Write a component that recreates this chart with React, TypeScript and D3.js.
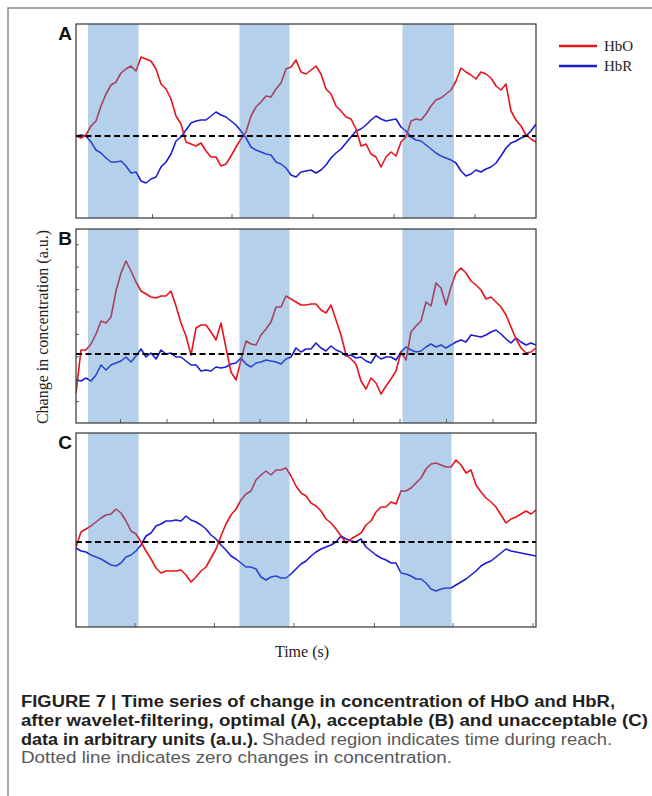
import React from 'react';
import * as d3 from 'd3';

// one sample per second, 93 samples per trace (values in a.u., 0 = no change)
const hboA = [0, -2, 1, 10, 15, 30, 42, 51, 54, 63, 67, 70, 65, 79, 77, 75, 67, 52, 47, 37, 20, 12, -6, -8, -10, -7, -15, -21, -21, -30, -28, -20, -11, -3, 4,
    20, 29, 34, 40, 39, 47, 53, 67, 69, 76, 64, 62, 66, 70, 62, 47, 42, 30, 25, 19, 17, 7, -10, -8, -18, -21, -31, -21, -16, -20, -6, -1, 15, 17, 16, 22, 30,
    36, 38, 42, 46, 55, 68, 64, 61, 57, 64, 62, 58, 50, 46, 52, 25, 16, 10, 1, -3, -6];
const hbrA = [0, 1, 0, -6, -14, -17, -22, -26, -26, -25, -30, -37, -36, -45, -47, -43, -41, -31, -26, -18, -5, -1, 6, 13, 15, 16, 16, 20, 24, 21, 19, 15, 11, 5, -2,
    -11, -14, -16, -18, -19, -26, -28, -32, -39, -41, -36, -35, -34, -37, -34, -29, -22, -17, -13, -7, -1, 5, 7, 11, 16, 20, 17, 15, 16, 17, 9, 5, -1, -4, -5, -9, -13,
    -17, -20, -22, -24, -27, -35, -40, -38, -34, -36, -33, -31, -27, -20, -12, -7, -5, -2, 0, 5, 12];

const hboB = [-39, 4, 4, 10, 20, 33, 31, 37, 63, 81, 93, 83, 72, 63, 60, 57, 56, 58, 58, 63, 48, 31, 18, -1, 26, 29, 29, 22, 14, 31, 6, -18, -26, -6, 13,
    10, 9, 19, 25, 32, 47, 47, 58, 55, 52, 49, 49, 50, 50, 44, 41, 49, 34, 19, -1, -5, -10, -27, -35, -24, -29, -40, -32, -25, -17, 2, -6, 22, 28, 33, 52, 48,
    71, 66, 49, 67, 81, 86, 81, 73, 69, 64, 55, 57, 52, 47, 39, 27, 15, 6, 1, 2, 6];
const hbrB = [-26, -27, -24, -27, -21, -11, -16, -11, -9, -7, -3, -8, -2, 5, -3, 1, -5, 4, 0, 1, -3, -3, -7, -11, -11, -17, -16, -17, -13, -14, -13, -10, -9, -4, -10,
    -13, -9, -8, -6, -7, -8, -10, -5, -3, 6, 2, 5, 5, 11, 6, 3, 8, 4, 2, -2, -1, -4, -3, -7, -9, -1, -5, -3, -3, -6, 2, 7, 4, 2, 3, 7, 10,
    7, 9, 6, 9, 12, 14, 12, 19, 18, 17, 19, 22, 24, 20, 15, 11, 16, 12, 9, 11, 9];

const hboC = [-5, 10, 13, 16, 20, 24, 27, 28, 33, 29, 21, 11, 8, 0, -9, -17, -26, -31, -29, -29, -29, -28, -33, -40, -35, -29, -25, -16, -7, 6, 18, 27, 33, 42, 48,
    51, 62, 67, 71, 67, 72, 72, 74, 66, 56, 49, 46, 39, 36, 31, 23, 19, 13, 6, -1, 3, 6, 9, 17, 21, 30, 35, 35, 40, 38, 51, 51, 54, 59, 64, 73, 78,
    79, 77, 75, 75, 82, 77, 69, 72, 57, 50, 44, 40, 35, 27, 19, 23, 25, 28, 31, 28, 32];
const hbrC = [-6, -9, -10, -13, -15, -17, -20, -23, -24, -21, -15, -13, -9, -3, 6, 9, 16, 18, 21, 21, 22, 21, 26, 22, 20, 17, 13, 7, 3, -3, -8, -14, -17, -21, -25,
    -25, -27, -35, -38, -35, -34, -36, -36, -32, -27, -22, -19, -14, -10, -7, -5, -3, 0, 6, 3, 1, 0, 3, -5, -9, -13, -16, -18, -21, -21, -31, -32, -34, -37, -37, -41, -47,
    -49, -47, -46, -46, -43, -40, -37, -33, -29, -24, -21, -19, -15, -11, -7, -9, -10, -11, -12, -13, -14];

// reach periods (s)
const reachAB = [[2.4, 12.5], [32.7, 42.7], [65.3, 75.6]];
const reachC = [[2.4, 12.5], [32.7, 42.7], [64.8, 75.1]];

const xTicksA = [15.3, 31.2, 47.4, 63.6, 79.8];
const xTicksB = [8.9, 18.2, 27.5, 36.8, 46.1, 55.5, 64.8, 74.1, 83.4];
const yTicksB = [109.3, 86.9, 64.5, 42, 19.6, -2.8, -25.2, -47.6];
const xTicksC = [11.8, 27.7, 43.6, 59.7, 75.4, 91.4];

const seriesLabels = ['HbO', 'HbR'];
const seriesColors = ['#e8141c', '#1c1cd2'];

const panels = [
    { label: 'A', top: 24, bottom: 218, yDomain: [-82, 112], hbo: hboA, hbr: hbrA, reach: reachAB, xTicks: xTicksA, yTicks: [] },
    { label: 'B', top: 229, bottom: 423, yDomain: [-69, 125], hbo: hboB, hbr: hbrB, reach: reachAB, xTicks: xTicksB, yTicks: yTicksB },
    { label: 'C', top: 433, bottom: 627, yDomain: [-85, 109], hbo: hboC, hbr: hbrC, reach: reachC, xTicks: xTicksC, yTicks: [] },
];

const left = 76;
const right = 536;

function Panel({ p }: { p: any }) {
    const n = p.hbo.length - 1;
    const x = d3.scaleLinear().domain([0, n]).range([left, right]);
    const y = d3.scaleLinear().domain(p.yDomain).range([p.bottom, p.top]);
    const line = d3.line<number>().x((_, i) => x(i)).y((d) => y(d));
    const clipId = 'clip' + p.label;

    return (
        <g>
            <clipPath id={clipId}>
                <rect x={left} y={p.top} width={right - left} height={p.bottom - p.top} />
            </clipPath>
            <rect x={left} y={p.top} width={right - left} height={p.bottom - p.top} fill="#fff" />
            <g clipPath={`url(#${clipId})`}>
                <path d={line(p.hbr) || ''} fill="none" stroke={seriesColors[1]} strokeWidth={1.6} strokeLinejoin="round" />
                <path d={line(p.hbo) || ''} fill="none" stroke={seriesColors[0]} strokeWidth={1.6} strokeLinejoin="round" />
                {p.reach.map((r: number[], i: number) => (
                    <rect key={i} x={x(r[0])} y={p.top} width={x(r[1]) - x(r[0])} height={p.bottom - p.top}
                        fill="#448acb" fillOpacity={0.4} />
                ))}
                <line x1={x(0)} x2={x(n)} y1={y(0)} y2={y(0)} stroke="#000" strokeWidth={2} strokeDasharray="6,3.5" />
            </g>
            {p.xTicks.map((t: number, i: number) => (
                <line key={'x' + i} x1={x(t)} x2={x(t)} y1={p.bottom} y2={p.bottom - 4} stroke="#666" strokeWidth={1} />
            ))}
            {p.yTicks.map((t: number, i: number) => (
                <line key={'y' + i} x1={left} x2={left + 3} y1={y(t)} y2={y(t)} stroke="#666" strokeWidth={1} />
            ))}
            <rect x={left} y={p.top} width={right - left} height={p.bottom - p.top} fill="none" stroke="#333" strokeWidth={1.2} />
            <text x={72} y={p.top + 16} textAnchor="end" fontFamily="Liberation Sans, Arial, sans-serif"
                fontWeight="bold" fontSize={19} fill="#111">{p.label}</text>
        </g>
    );
}

export default function App() {
    const sans = 'Liberation Sans, Arial, sans-serif';
    const serif = 'Liberation Serif, Times New Roman, serif';
    return (
        <svg width={652} height={796} style={{ position: 'absolute', left: 0, top: 0, background: '#fff' }}>
            <path d="M652,8 H8 V796" fill="none" stroke="#8a8a8a" strokeWidth={1.5} />

            {panels.map((p) => <Panel key={p.label} p={p} />)}

            {seriesLabels.map((s, i) => (
                <g key={s}>
                    <line x1={559} x2={597} y1={46 + i * 20} y2={46 + i * 20} stroke={seriesColors[i]} strokeWidth={2.6} />
                    <text x={604} y={51 + i * 20} fontFamily={serif} fontSize={15} fill="#222">{s}</text>
                </g>
            ))}

            <text transform="translate(48,327) rotate(-90)" textAnchor="middle" fontFamily={serif} fontSize={16} fill="#222">
                Change in concentration (a.u.)
            </text>
            <text x={302} y={657} textAnchor="middle" fontFamily={serif} fontSize={16} fill="#222">Time (s)</text>

            <g fontFamily={sans} fontSize={16}>
                <text x={21} y={707} fontWeight="bold" fill="#231f20" textLength={594} lengthAdjust="spacingAndGlyphs">
                    FIGURE 7 | Time series of change in concentration of HbO and HbR,
                </text>
                <text x={21} y={726} fontWeight="bold" fill="#231f20" textLength={627} lengthAdjust="spacingAndGlyphs">
                    after wavelet-filtering, optimal (A), acceptable (B) and unacceptable (C)
                </text>
                <text y={745}>
                    <tspan x={21} fontWeight="bold" fill="#231f20" textLength={237} lengthAdjust="spacingAndGlyphs">data in arbitrary units (a.u.).</tspan>
                    <tspan x={262} fill="#58595b" textLength={350} lengthAdjust="spacingAndGlyphs">Shaded region indicates time during reach.</tspan>
                </text>
                <text x={21} y={763} fill="#58595b" textLength={431} lengthAdjust="spacingAndGlyphs">
                    Dotted line indicates zero changes in concentration.
                </text>
            </g>
        </svg>
    );
}
